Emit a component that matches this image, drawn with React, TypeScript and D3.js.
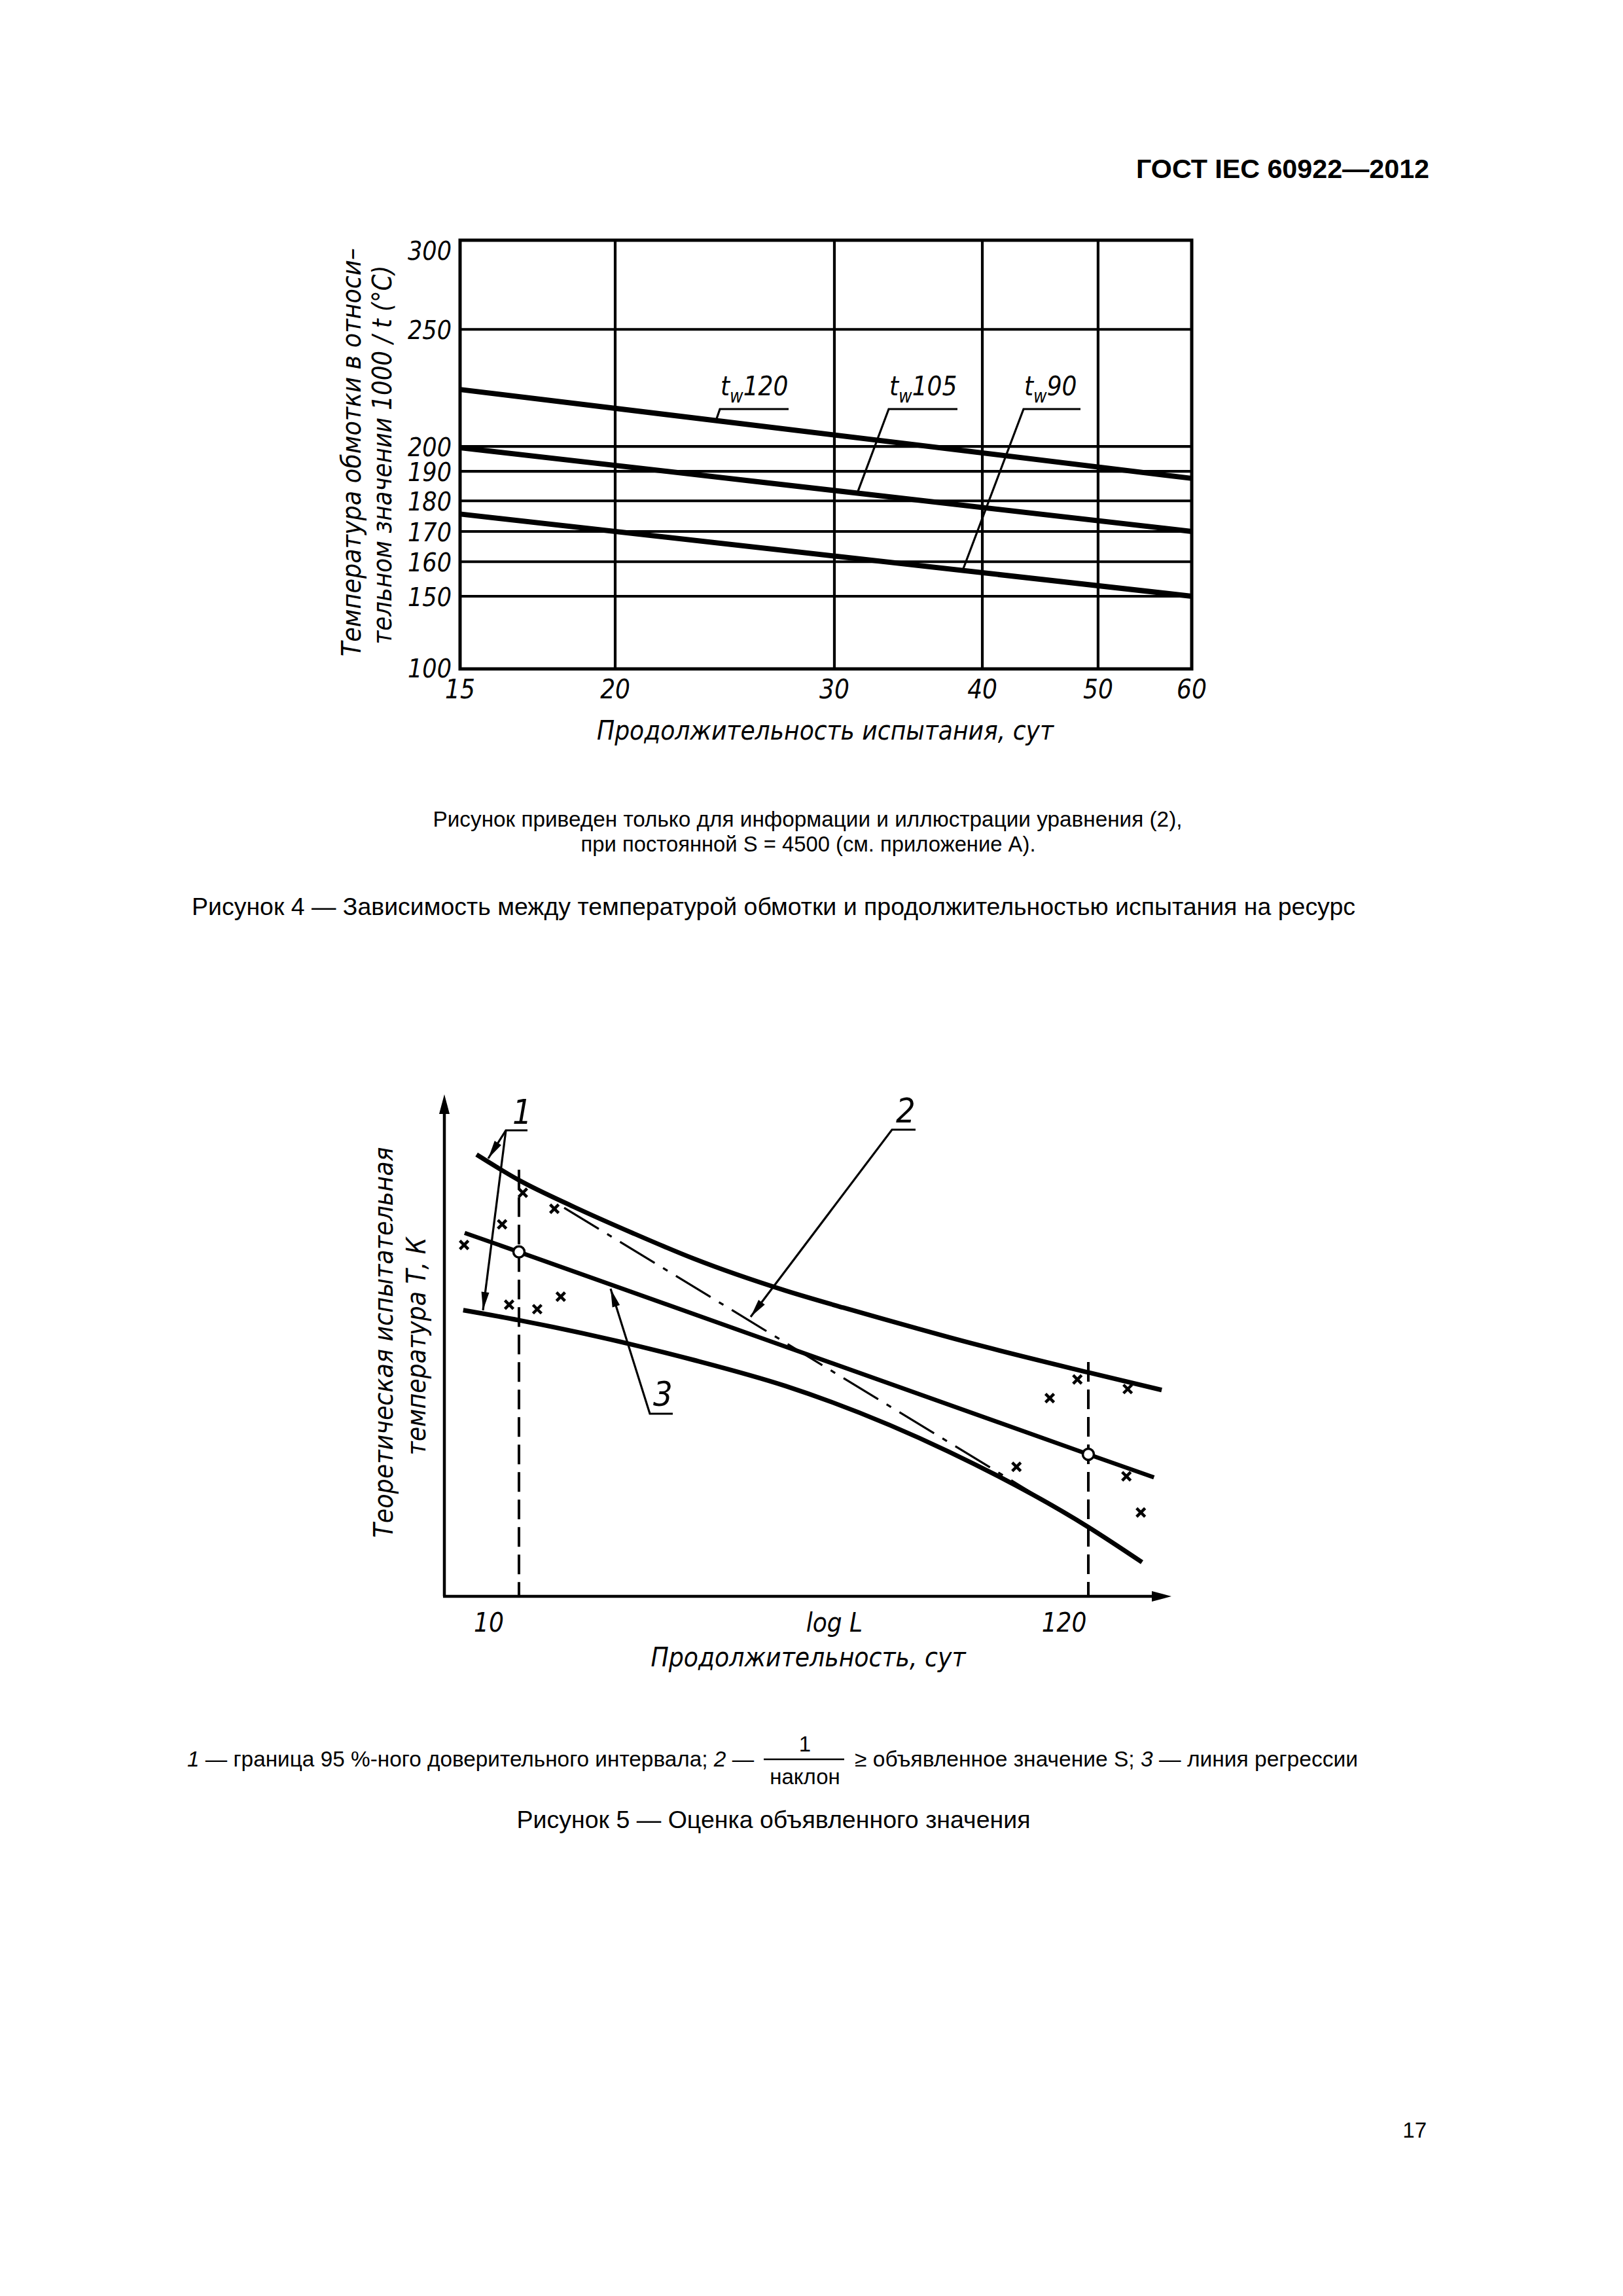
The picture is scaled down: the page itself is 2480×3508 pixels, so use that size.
import React from 'react';
import * as d3 from 'd3';

// ---------- Figure 4 data ----------
const durationTicks = [15, 20, 30, 40, 50, 60];
const tempTicks = [100, 150, 160, 170, 180, 190, 200, 250, 300];
const seriesDays = [15, 60];
const tw120 = [224.3, 187.6];
const tw105 = [199.5, 170.0];
const tw90 = [175.7, 150.0];
const seriesLabels = ['120', '105', '90'];

// ---------- Figure 5 data (L in days, T in relative units) ----------
const upperL = [8.31, 10, 12.7, 16.4, 21.4, 32.0, 41.2, 53.3, 65.3, 120, 165.3];
const upperT = [88.0, 82.9, 77.6, 72.4, 67.3, 60.9, 57.5, 54.2, 51.6, 44.6, 41.1];
const lowerL = [7.84, 10, 21.4, 32.0, 65.3, 120, 151.7];
const lowerT = [57.0, 55.0, 47.1, 41.9, 28.8, 13.8, 6.8];
const regrL = [7.89, 10, 120, 159.8];
const regrT = [72.4, 68.6, 28.3, 23.7];
const slopeL = [12.18, 95.5];
const slopeT = [77.4, 20.1];
const crossL = [7.87, 9.29, 10.17, 11.67, 9.58, 10.83, 12.0, 87.7, 101.4, 114.4, 142.5, 141.7, 150.9];
const crossT = [70.0, 74.1, 80.4, 77.2, 58.1, 57.2, 59.7, 25.8, 39.5, 43.2, 41.3, 23.9, 16.7];
const markedL = [10, 120];
const xLabels5 = ['10', 'log L', '120'];

const GOST = "'DejaVu Sans Condensed', 'DejaVu Sans', sans-serif";
const ARIAL = "'Liberation Sans', Arial, sans-serif";

function arrowHead(x1: number, y1: number, x2: number, y2: number, len: number, half: number) {
  const dx = x2 - x1, dy = y2 - y1;
  const d = Math.hypot(dx, dy);
  const ux = dx / d, uy = dy / d;
  const bx = x2 - ux * len, by = y2 - uy * len;
  return `${x2},${y2} ${bx - uy * half},${by + ux * half} ${bx + uy * half},${by - ux * half}`;
}

function Leader({ pts, arrow }: { pts: number[][]; arrow?: boolean }) {
  const n = pts.length;
  return (
    <g>
      <polyline points={pts.map(p => p.join(',')).join(' ')} fill="none" stroke="#000" strokeWidth={3.2} />
      {arrow && (
        <polygon points={arrowHead(pts[n - 2][0], pts[n - 2][1], pts[n - 1][0], pts[n - 1][1], 28, 6)} fill="#000" />
      )}
    </g>
  );
}

function Figure4() {
  const f = { x0: 703, x1: 1821, y0: 367, y1: 1022 };
  const xFrac = [0, 0.212, 0.5116, 0.7138, 0.872, 1];
  const yFrac = [0, 0.1695, 0.25, 0.3206, 0.392, 0.461, 0.519, 0.792, 1];
  const x = d3.scaleLinear().domain(durationTicks).range(xFrac.map(v => f.x0 + v * (f.x1 - f.x0)));
  const y = d3.scaleLinear().domain(tempTicks).range(yFrac.map(v => f.y1 - v * (f.y1 - f.y0)));
  const line = d3.line<number>().x((_, i) => x(seriesDays[i])).y(d => y(d));
  const series = [tw120, tw105, tw90];

  const leaderAt = [1095, 1311, 1472];
  const labelX = [1100, 1358, 1564];
  const labelW = [105, 105, 87];
  return (
    <g>
      {durationTicks.slice(1, -1).map(t => (
        <line key={'vx' + t} x1={x(t)} x2={x(t)} y1={f.y0} y2={f.y1} stroke="#000" strokeWidth={4.2} />
      ))}
      {tempTicks.slice(1, -1).map(t => (
        <line key={'hy' + t} x1={f.x0} x2={f.x1} y1={y(t)} y2={y(t)} stroke="#000" strokeWidth={4.2} />
      ))}
      <rect x={f.x0} y={f.y0} width={f.x1 - f.x0} height={f.y1 - f.y0} fill="none" stroke="#000" strokeWidth={5} />
      {series.map((s, i) => (
        <path key={'s' + i} d={line(s) || ''} fill="none" stroke="#000" strokeWidth={8} />
      ))}
      {series.map((s, i) => {
        const xa = leaderAt[i];
        const t = (xa - f.x0) / (f.x1 - f.x0);
        const ya = y(s[0]) + t * (y(s[1]) - y(s[0]));
        return (
          <g key={'lab' + i}>
            <Leader pts={[[xa, ya - 3], [labelX[i], 625], [labelX[i] + labelW[i], 625]]} />
            <text x={labelX[i] + 1} y={604} fontFamily={GOST} fontStyle="italic" fontSize={40}>
              t<tspan fontSize={28} dy={11}>w</tspan><tspan dy={-11}>{seriesLabels[i]}</tspan>
            </text>
          </g>
        );
      })}
      {tempTicks.map(t => (
        <text key={'yl' + t} x={690} y={t === 300 ? f.y0 + 30 : y(t) + (t === 100 ? 13 : 15)} textAnchor="end"
          fontFamily={GOST} fontStyle="italic" fontSize={39}>{t}</text>
      ))}
      {durationTicks.map(t => (
        <text key={'xl' + t} x={x(t)} y={1067} textAnchor="middle" fontFamily={GOST} fontStyle="italic" fontSize={40}>{t}</text>
      ))}
      <text x={1261} y={1130} textAnchor="middle" fontFamily={GOST} fontStyle="italic" fontSize={40}
        textLength={698} lengthAdjust="spacingAndGlyphs">Продолжительность испытания, сут</text>
      <text transform="translate(551,691) rotate(-90)" textAnchor="middle" fontFamily={GOST} fontStyle="italic"
        fontSize={40} textLength={624} lengthAdjust="spacingAndGlyphs">Температура обмотки в относи–</text>
      <text transform="translate(598,695) rotate(-90)" textAnchor="middle" fontFamily={GOST} fontStyle="italic"
        fontSize={40} textLength={579} lengthAdjust="spacingAndGlyphs">тельном значении 1000 / t (°C)</text>
    </g>
  );
}

function Figure5() {
  const ox = 679, oy = 2439, xEnd = 1790, yEnd = 1672;
  const x = d3.scaleLog().domain([10, 120]).range([793, 1663]);
  const y = d3.scaleLinear().domain([0, 100]).range([oy, yEnd]);
  const curve = (Ls: number[], Ts: number[], c: d3.CurveFactory) =>
    d3.line<number>().x(d => x(d)).y((_, i) => y(Ts[i])).curve(c)(Ls) || '';

  const upperAt = (L: number) => y(upperT[upperL.indexOf(L)]);
  const regrAt = (L: number) => y(regrT[regrL.indexOf(L)]);

  return (
    <g>
      <line x1={ox} y1={oy} x2={ox} y2={yEnd + 28} stroke="#000" strokeWidth={4.5} />
      <polygon points={arrowHead(ox, oy, ox, yEnd, 30, 8)} fill="#000" />
      <line x1={ox - 2} y1={oy} x2={xEnd - 28} y2={oy} stroke="#000" strokeWidth={4.5} />
      <polygon points={arrowHead(ox, oy, xEnd, oy, 30, 8)} fill="#000" />

      {markedL.map(L => (
        <line key={'dv' + L} x1={x(L)} x2={x(L)} y1={upperAt(L) - 16} y2={oy} stroke="#000" strokeWidth={4}
          strokeDasharray="30 12" />
      ))}

      <path d={curve(upperL, upperT, d3.curveMonotoneX)} fill="none" stroke="#000" strokeWidth={7} />
      <path d={curve(lowerL, lowerT, d3.curveMonotoneX)} fill="none" stroke="#000" strokeWidth={7} />
      <path d={curve(regrL, regrT, d3.curveLinear)} fill="none" stroke="#000" strokeWidth={6.5} />
      <path d={curve(slopeL, slopeT, d3.curveLinear)} fill="none" stroke="#000" strokeWidth={3.2}
        strokeDasharray="62 15 8 15" />

      {markedL.map(L => (
        <circle key={'c' + L} cx={x(L)} cy={regrAt(L)} r={8.5} fill="#fff" stroke="#000" strokeWidth={3.5} />
      ))}

      {crossL.map((L, i) => {
        const cx = x(L), cy = y(crossT[i]), s = 6.5;
        return (
          <g key={'x' + i} stroke="#000" strokeWidth={4.5}>
            <line x1={cx - s} y1={cy - s} x2={cx + s} y2={cy + s} />
            <line x1={cx - s} y1={cy + s} x2={cx + s} y2={cy - s} />
          </g>
        );
      })}

      <Leader pts={[[806, 1727], [773, 1727], [746, 1770]]} arrow />
      <Leader pts={[[773, 1727], [738, 2002]]} arrow />
      <text x={783} y={1717} fontFamily={GOST} fontStyle="italic" fontSize={52}>1</text>

      <Leader pts={[[1399, 1726], [1363, 1726], [1147, 2012]]} arrow />
      <text x={1369} y={1715} fontFamily={GOST} fontStyle="italic" fontSize={52}>2</text>

      <Leader pts={[[1028, 2160], [993, 2160], [933, 1969]]} arrow />
      <text x={998} y={2148} fontFamily={GOST} fontStyle="italic" fontSize={52}>3</text>

      <text x={x(10) - 46} y={2493} textAnchor="middle" fontFamily={GOST} fontStyle="italic" fontSize={40}>{xLabels5[0]}</text>
      <text x={1275} y={2493} textAnchor="middle" fontFamily={GOST} fontStyle="italic" fontSize={40}>{xLabels5[1]}</text>
      <text x={x(120) - 37} y={2493} textAnchor="middle" fontFamily={GOST} fontStyle="italic" fontSize={40}>{xLabels5[2]}</text>
      <text x={1235} y={2546} textAnchor="middle" fontFamily={GOST} fontStyle="italic" fontSize={40}
        textLength={481} lengthAdjust="spacingAndGlyphs">Продолжительность, сут</text>
      <text transform="translate(600,2051) rotate(-90)" textAnchor="middle" fontFamily={GOST} fontStyle="italic"
        fontSize={40} textLength={597} lengthAdjust="spacingAndGlyphs">Теоретическая испытательная</text>
      <text transform="translate(650,2057) rotate(-90)" textAnchor="middle" fontFamily={GOST} fontStyle="italic"
        fontSize={40} textLength={333} lengthAdjust="spacingAndGlyphs">температура Т, К</text>
    </g>
  );
}

export default function App() {
  return (
    <svg width={2480} height={3508} viewBox="0 0 2480 3508" xmlns="http://www.w3.org/2000/svg"
      style={{ position: 'absolute', left: 0, top: 0, display: 'block', background: '#fff' }}>
      <rect x={0} y={0} width={2480} height={3508} fill="#fff" />
      <text x={2184} y={272} textAnchor="end" fontFamily={ARIAL} fontWeight="bold" fontSize={41}
        textLength={448} lengthAdjust="spacingAndGlyphs">ГОСТ IEC 60922—2012</text>

      <Figure4 />

      <text x={1234} y={1263} textAnchor="middle" fontFamily={ARIAL} fontSize={33} textLength={1145}
        lengthAdjust="spacingAndGlyphs">Рисунок приведен только для информации и иллюстрации уравнения (2),</text>
      <text x={1235} y={1301} textAnchor="middle" fontFamily={ARIAL} fontSize={33} textLength={695}
        lengthAdjust="spacingAndGlyphs">при постоянной S = 4500 (см. приложение А).</text>
      <text x={1182} y={1398} textAnchor="middle" fontFamily={ARIAL} fontSize={37} textLength={1778}
        lengthAdjust="spacingAndGlyphs">Рисунок 4 — Зависимость между температурой обмотки и продолжительностью испытания на ресурс</text>

      <Figure5 />

      <text x={286} y={2699} fontFamily={ARIAL} fontSize={33} textLength={866} lengthAdjust="spacingAndGlyphs">
        <tspan fontStyle="italic">1</tspan>{' — граница 95 %-ного доверительного интервала; '}<tspan fontStyle="italic">2</tspan>{' —'}
      </text>
      <text x={1230} y={2676} textAnchor="middle" fontFamily={ARIAL} fontSize={33}>1</text>
      <line x1={1167} x2={1290} y1={2688} y2={2688} stroke="#000" strokeWidth={2.5} />
      <text x={1230} y={2726} textAnchor="middle" fontFamily={ARIAL} fontSize={33}>наклон</text>
      <text x={1306} y={2699} fontFamily={ARIAL} fontSize={33} textLength={769} lengthAdjust="spacingAndGlyphs">
        {'≥ объявленное значение S; '}<tspan fontStyle="italic">3</tspan>{' — линия регрессии'}
      </text>
      <text x={1182} y={2793} textAnchor="middle" fontFamily={ARIAL} fontSize={37} textLength={785}
        lengthAdjust="spacingAndGlyphs">Рисунок 5 — Оценка объявленного значения</text>

      <text x={2180} y={3266} textAnchor="end" fontFamily={ARIAL} fontSize={33}>17</text>
    </svg>
  );
}
